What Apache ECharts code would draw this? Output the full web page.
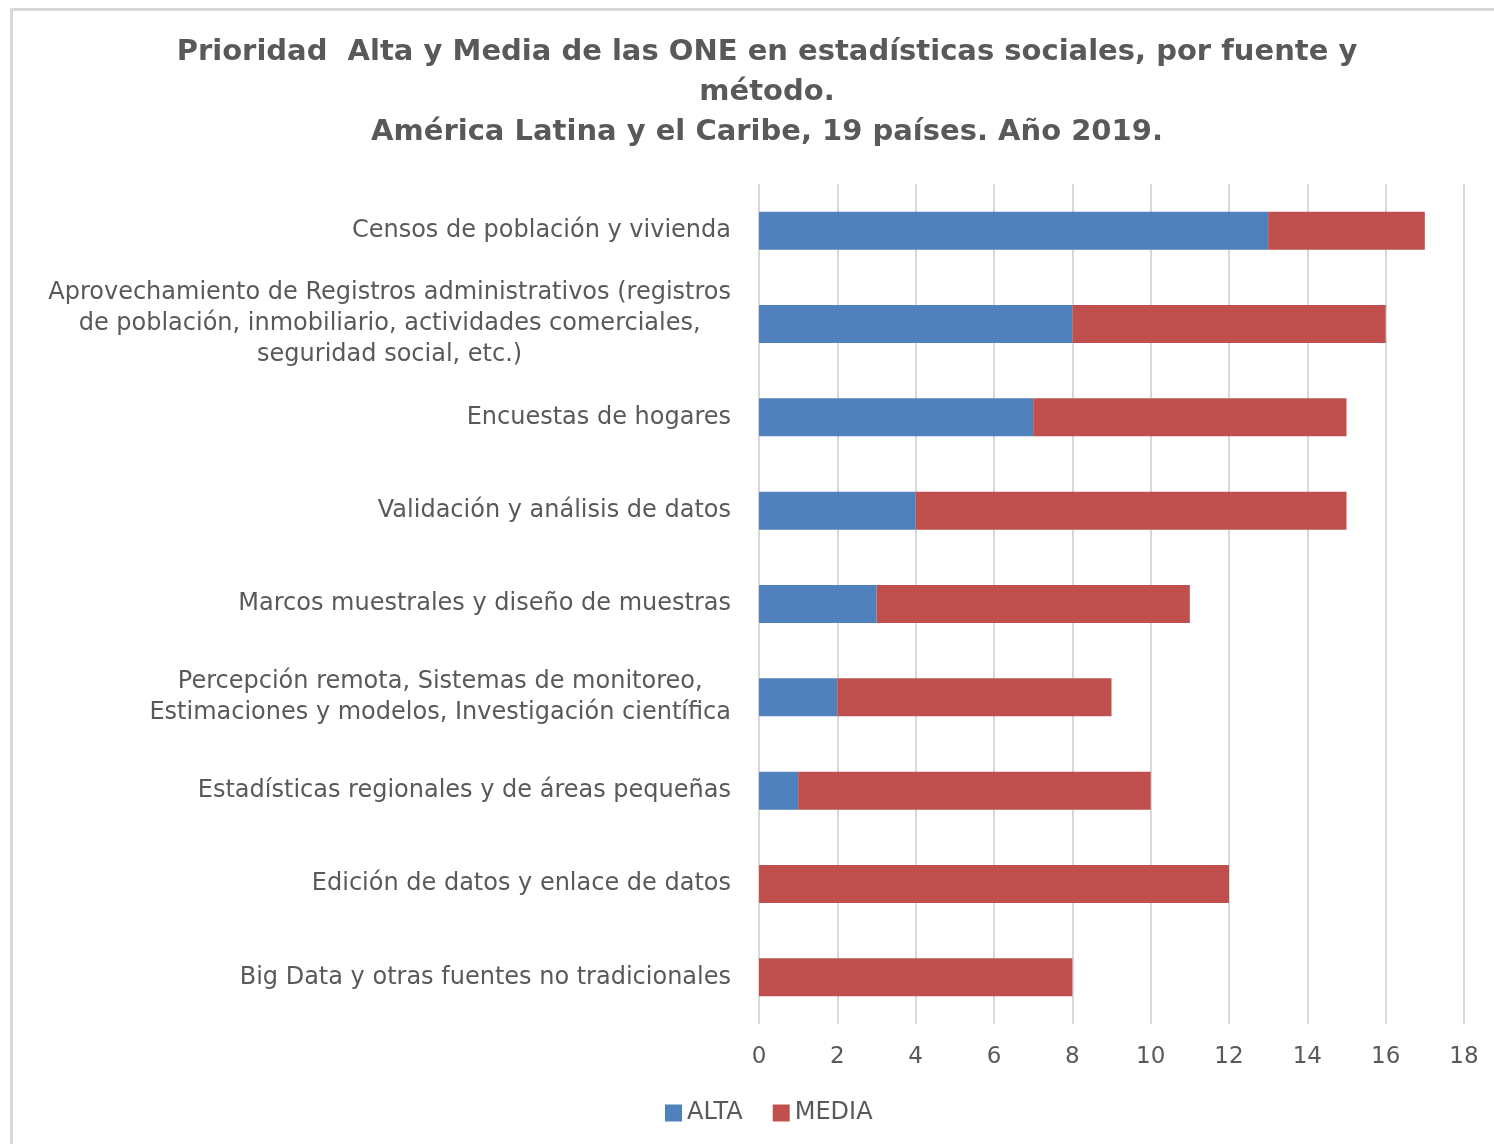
<!DOCTYPE html>
<html>
<head>
<meta charset="utf-8">
<script src="https://cdn.jsdelivr.net/npm/echarts@6/dist/echarts.min.js"></script>
<style>
    html, body { margin: 0; padding: 0; background: #fff; overflow: hidden; }
    #chart { width: 1494px; height: 1144px; }
</style>
</head>
<body>
<div id="chart"></div>
<script>
    // categorias (de arriba hacia abajo)
    var categorias = [
        'Censos de población y vivienda',
        'Aprovechamiento de Registros administrativos (registros\nde población, inmobiliario, actividades comerciales,\nseguridad social, etc.)',
        'Encuestas de hogares',
        'Validación y análisis de datos',
        'Marcos muestrales y diseño de muestras',
        'Percepción remota, Sistemas de monitoreo,\nEstimaciones y modelos, Investigación científica',
        'Estadísticas regionales y de áreas pequeñas',
        'Edición de datos y enlace de datos',
        'Big Data y otras fuentes no tradicionales'
    ];

    var alta = [13, 8, 7, 4, 3, 2, 1, 0, 0];
    var media = [4, 8, 8, 11, 8, 7, 9, 12, 8];

    var titulo = 'Prioridad  Alta y Media de las ONE en estadísticas sociales, por fuente y\nmétodo.\nAmérica Latina y el Caribe, 19 países. Año 2019.';

    var fuente = '"DejaVu Sans", "Open Sans", sans-serif';
    var gris = '#595959';

    var chart = echarts.init(document.getElementById('chart'));
    var option = {
        backgroundColor: '#fff',
        animation: false,
        // marco del grafico (solo se ven borde superior e izquierdo)
        graphic: [
            {
                type: 'line',
                shape: { x1: 11, y1: 9.5, x2: 1494, y2: 9.5 },
                style: { stroke: '#D9D9D9', lineWidth: 3 },
                silent: true
            },
            {
                type: 'line',
                shape: { x1: 11.5, y1: 8, x2: 11.5, y2: 1144 },
                style: { stroke: '#D9D9D9', lineWidth: 3 },
                silent: true
            }
        ],
        title: {
            text: titulo,
            left: 762,
            top: 27,
            textAlign: 'center',
            textStyle: {
                fontFamily: fuente,
                fontSize: 29,
                fontWeight: 'bold',
                color: gris,
                lineHeight: 40
            }
        },
        legend: {
            data: ['ALTA', 'MEDIA'],
            left: 660,
            top: 1096,
            itemWidth: 17,
            itemHeight: 17,
            itemGap: 30,
            icon: 'rect',
            textStyle: { fontFamily: fuente, fontSize: 24, color: gris }
        },
        grid: {
            left: 759,
            right: 30,
            top: 184,
            bottom: 120
        },
        xAxis: {
            type: 'value',
            min: 0,
            max: 18,
            interval: 2,
            axisLine: { show: false },
            axisTick: { show: false },
            axisLabel: {
                margin: 22,
                fontFamily: fuente,
                fontSize: 23,
                color: gris
            },
            splitLine: { lineStyle: { color: '#D9D9D9', width: 2 } }
        },
        yAxis: {
            type: 'category',
            inverse: true,
            data: categorias,
            axisLine: { show: false },
            axisTick: { show: false },
            axisLabel: {
                margin: 28,
                formatter: function (v) {
                    // cada linea centrada dentro del bloque
                    return v.split('\n').map(function (l) { return '{c|' + l + '}'; }).join('\n');
                },
                rich: {
                    c: {
                        align: 'center',
                        fontFamily: fuente,
                        fontSize: 24,
                        color: gris,
                        lineHeight: 31
                    }
                }
            }
        },
        series: [
            {
                name: 'ALTA',
                type: 'bar',
                stack: 'total',
                barWidth: 38,
                itemStyle: { color: '#4F81BD' },
                data: alta
            },
            {
                name: 'MEDIA',
                type: 'bar',
                stack: 'total',
                barWidth: 38,
                itemStyle: { color: '#C0504D' },
                data: media
            }
        ]
    };
    chart.setOption(option, true);
</script>
</body>
</html>
